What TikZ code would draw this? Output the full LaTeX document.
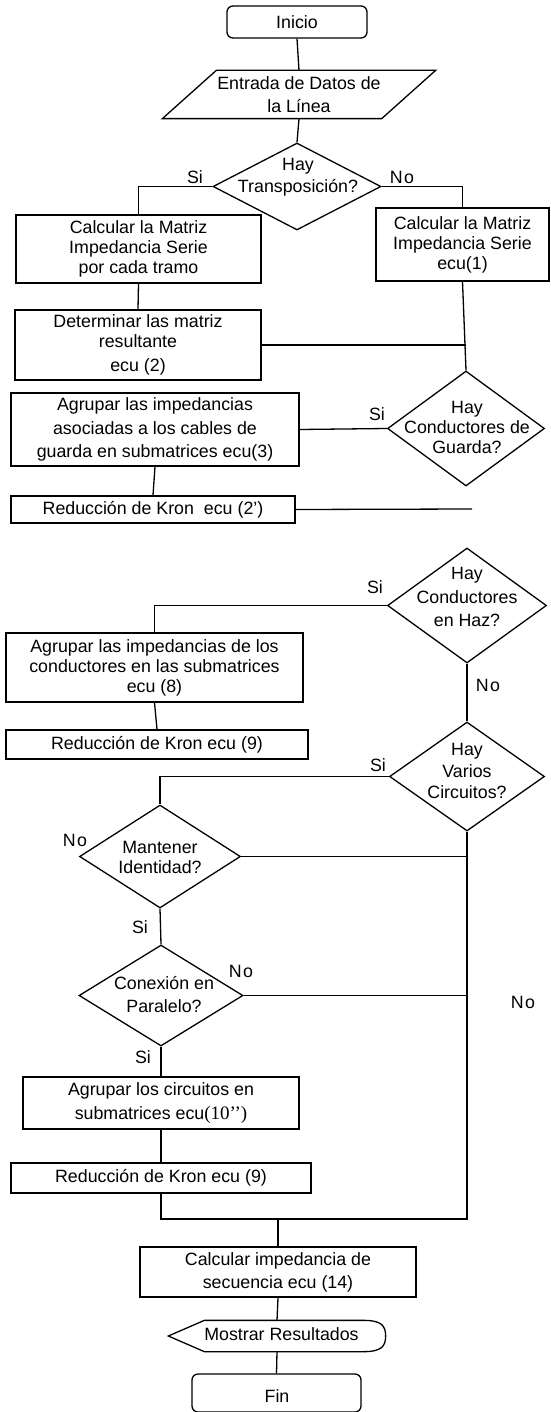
\documentclass[tikz,border=0pt]{standalone}
\usepackage{fontspec}
\setmainfont{Liberation Sans}
\newfontfamily\tnrfont{Liberation Serif}
\usetikzlibrary{shapes.geometric,calc}
\begin{document}
\begin{tikzpicture}[x=1pt,y=-1pt,line width=1.3pt,
  every node/.style={font=\fontsize{17.8}{20}\selectfont},
  wide/.style={font=\fontsize{17.8}{23.5}\selectfont},
  box/.style={draw,rectangle,inner sep=0pt,align=center},
  term/.style={draw,rectangle,rounded corners=6pt,inner sep=0pt},
  dec/.style={draw,diamond,inner sep=0pt},
  txt/.style={inner sep=0pt,align=center},
  lbl/.style={inner sep=0pt}]
\useasboundingbox (0,0) rectangle (550,1412);

% shapes
\node[term,minimum width=140,minimum height=32] (ini) at (297,22) {Inicio};
\node[txt,minimum width=218,minimum height=47] (inp) at (299,94.5) {Entrada de Datos de\\[3pt]la Línea};
\draw ($(inp.south west)+(-27,0)$) -- ($(inp.north west)+(27,0)$) -- ($(inp.north east)+(27,0)$) -- ($(inp.south east)+(-27,0)$) -- cycle;

\node[dec,minimum width=168,minimum height=87] (d1) at (297,186.5) {};
\node[txt] (d1t) at (298,177) {Hay\\[2pt]Transposición?};

\node[box,minimum width=245,minimum height=68] (b1) at (138.5,249) {Calcular la Matriz\\Impedancia Serie\\por cada tramo};
\node[box,minimum width=173,minimum height=73] (b2) at (462.5,244.5) {Calcular la Matriz\\Impedancia Serie\\ecu(1)};
\node[box,minimum width=246,minimum height=70] (b3) at (138,345) {Determinar las matriz\\resultante\\[4pt]ecu (2)};

\node[dec,minimum width=157,minimum height=115] (d2) at (466,428.5) {};
\node[txt] (d2t) at (467,427) {Hay\\Conductores de\\Guarda?};
\node[box,wide,minimum width=288,minimum height=73] (b4) at (155,429.5) {Agrupar las impedancias\\asociadas a los cables de\\guarda en submatrices ecu(3)};
\node[box,minimum width=284,minimum height=27] (b5) at (153,509.5) {Reducción de Kron\ \ ecu (2’)};
\coordinate (e1) at (472,509);

\node[dec,minimum width=159,minimum height=115] (d3) at (467,605.5) {};
\node[txt,wide] (d3t) at (467,597) {Hay\\Conductores\\en Haz?};
\node[box,minimum width=297,minimum height=69] (b6) at (154.5,667.5) {Agrupar las impedancias de los\\conductores en las submatrices\\ecu (8)};
\node[box,minimum width=302,minimum height=29] (b7) at (157,744.5) {Reducción de Kron ecu (9)};

\node[dec,minimum width=155,minimum height=109] (d4) at (467,776.5) {};
\node[txt,font=\fontsize{17.8}{21.5}\selectfont] (d4t) at (467,771) {Hay\\Varios\\Circuitos?};

\node[dec,minimum width=161,minimum height=103] (d5) at (160,856.5) {};
\node[txt] (d5t) at (160,857) {Mantener\\Identidad?};

\node[dec,minimum width=164,minimum height=101] (d6) at (161,995.5) {};
\node[txt,font=\fontsize{17.8}{23}\selectfont] (d6t) at (164,995) {Conexión en\\Paralelo?};

\node[box,wide,minimum width=276,minimum height=52] (b8) at (161,1103) {Agrupar los circuitos en\\submatrices ecu{\tnrfont\fontsize{19}{23.5}\selectfont(10’’)}};
\node[box,minimum width=300,minimum height=30] (b9) at (161,1178) {Reducción de Kron ecu (9)};
\coordinate (j) at (467,1219);
\node[box,font=\fontsize{17.8}{23}\selectfont,minimum width=276,minimum height=50] (b10) at (278,1272) {Calcular impedancia de\\secuencia ecu (14)};

\node[txt,minimum width=216,minimum height=30] (disp) at (277,1336) {};
\draw (disp.west) -- ($(disp.north west)+(36,0)$) -- ($(disp.north east)+(-22,0)$)
  .. controls ($(disp.north east)+(-4,0)$) and ($(disp.east)+(0,-10)$) .. (disp.east)
  .. controls ($(disp.east)+(0,10)$) and ($(disp.south east)+(-4,0)$) .. ($(disp.south east)+(-22,0)$)
  -- ($(disp.south west)+(36,0)$) -- cycle;
\node[txt] (dispt) at (281.5,1334) {Mostrar Resultados};

\node[term,minimum width=169,minimum height=38] (fin) at (276.5,1393) {};
\node[txt] (fint) at (277,1396) {Fin};

% connectors
\draw (ini.south) -- (inp.north);
\draw (inp.south) -- (d1.north);
\draw (d1.west) -| (b1.north);
\draw (d1.east) -| (b2.north);
\draw (b1.south) -- (b3.north);
\draw (b2.south) -- (d2.north);
\draw (b3.east) -- (b3.east -| d2.north);
\draw (d2.west) -- (b4.east);
\draw (b4.south) -- (b5.north);
\draw (b5.east) -- (e1);
\draw (d3.west) -| (b6.north);
\draw (d3.south) -- (d4.north);
\draw (b6.south) -- (b7.north);
\draw (d4.west) -| (d5.north);
\draw (d5.east) -- (d5.east -| d4.south);
\draw (d5.south) -- (d6.north);
\draw (d6.east) -- (d6.east -| d4.south);
\draw (d6.south) -- (b8.north);
\draw (b8.south) -- (b9.north);
\draw (b9.south) |- (j) -- (d4.south);
\draw (b10.north) -- (b10.north |- j);
\draw (b10.south) -- (disp.north);
\draw (disp.south) -- (fin.north);

% labels
\node[lbl] (l1) at (195,177) {Si};
\node[lbl] (l2) at (402,177) {N\kern1.5pt o};
\node[lbl] (l3) at (377,414) {Si};
\node[lbl] (l4) at (375,587) {Si};
\node[lbl] (l5) at (488,685) {N\kern1.5pt o};
\node[lbl] (l6) at (378,765) {Si};
\node[lbl] (l7) at (75,840) {N\kern1.5pt o};
\node[lbl] (l8) at (140,927) {Si};
\node[lbl] (l9) at (241,971) {N\kern1.5pt o};
\node[lbl] (l10) at (523,1002) {N\kern1.5pt o};
\node[lbl] (l11) at (143,1057) {Si};
\end{tikzpicture}
\end{document}
